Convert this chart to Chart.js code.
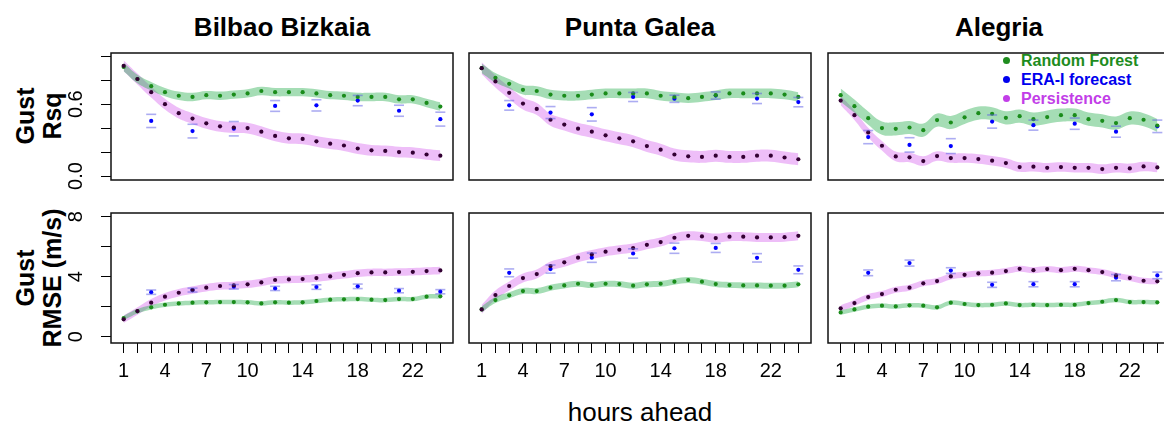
<!DOCTYPE html>
<html>
<head>
<meta charset="utf-8">
<script src="https://cdn.jsdelivr.net/npm/chart.js@4/dist/chart.umd.min.js"></script>
<style>
  html, body { margin: 0; padding: 0; background: #fff; }
  body { position: relative; width: 1164px; height: 427px; overflow: hidden;
         font-family: "Liberation Sans", Arial, sans-serif; color: #000; }
  canvas { position: absolute; }
  .title { position: absolute; font-weight: bold; font-size: 26px; transform: translate(-50%, -50%); white-space: nowrap; }
  .ytitle { position: absolute; font-weight: bold; font-size: 25px; line-height: 27px; text-align: center;
            white-space: nowrap; transform: translate(-50%, -50%) rotate(-90deg); }
  .xtitle { position: absolute; font-size: 26px; transform: translate(-50%, -50%); white-space: nowrap; }
  .legend { position: absolute; left: 1002px; top: 51px; font-weight: bold; font-size: 16px; line-height: 19px; }
  .legend div { position: relative; padding-left: 19px; white-space: nowrap; }
  .legend span { position: absolute; left: 1px; top: 6px; width: 7px; height: 7px; border-radius: 50%; }
</style>
</head>
<body>
<div class="title" style="left:282px; top:27px">Bilbao Bizkaia</div>
<div class="title" style="left:640px; top:27px">Punta Galea</div>
<div class="title" style="left:999px; top:27px">Alegria</div>
<div class="ytitle" style="left:39px; top:116px">Gust<br>Rsq</div>
<div class="ytitle" style="left:39px; top:278px">Gust<br>RMSE (m/s)</div>
<div class="xtitle" style="left:640px; top:412px">hours ahead</div>
<div class="legend">
  <div style="color:#1e8c1e"><span style="background:#1e8c1e"></span>Random Forest</div>
  <div style="color:#0000ee"><span style="background:#0000ee"></span>ERA-I forecast</div>
  <div style="color:#c23ee8"><span style="background:#c23ee8"></span>Persistence</div>
</div>

<script>
// hours on the x axis, and the ones that get a label
const hours = [1,2,3,4,5,6,7,8,9,10,11,12,13,14,15,16,17,18,19,20,21,22,23,24];
const xLabelHours = [1, 4, 7, 10, 14, 18, 22];
const eraHours = [3, 6, 9, 12, 15, 18, 21, 24];

const rsqTicks = [0, 0.2, 0.4, 0.6, 0.8, 1.0];
const rsqLabels = [0, 0.6];
const rmseTicks = [0, 2, 4, 6, 8];
const rmseLabels = [0, 4, 8];

// Rsq, Bilbao Bizkaia
const rfRsqBilbao = [0.91,0.81,0.75,0.70,0.67,0.66,0.675,0.67,0.68,0.69,0.71,0.70,0.70,0.70,0.69,0.675,0.67,0.66,0.66,0.66,0.64,0.64,0.61,0.58];
const perRsqBilbao = [0.92,0.81,0.70,0.60,0.525,0.48,0.44,0.415,0.405,0.40,0.37,0.335,0.315,0.31,0.29,0.27,0.255,0.23,0.215,0.21,0.20,0.195,0.18,0.17];
const eraRsqBilbao = [0.46,0.375,0.395,0.585,0.59,0.63,0.545,0.475];
const eraRsqBilbaoErr = [0.055,0.057,0.06,0.045,0.047,0.043,0.046,0.058];

// Rsq, Punta Galea
const rfRsqPunta = [0.90,0.82,0.77,0.72,0.71,0.68,0.67,0.67,0.68,0.69,0.69,0.69,0.69,0.67,0.66,0.65,0.66,0.675,0.69,0.69,0.69,0.69,0.68,0.66];
const perRsqPunta = [0.90,0.79,0.695,0.605,0.56,0.47,0.43,0.395,0.37,0.34,0.315,0.29,0.25,0.22,0.18,0.165,0.16,0.17,0.16,0.16,0.17,0.17,0.155,0.14];
const eraRsqPunta = [0.59,0.53,0.515,0.66,0.645,0.672,0.647,0.617];
const eraRsqPuntaErr = [0.04,0.05,0.056,0.038,0.03,0.03,0.042,0.039];

// Rsq, Alegria
const rfRsqAlegria = [0.675,0.583,0.483,0.40,0.394,0.405,0.383,0.467,0.447,0.49,0.525,0.52,0.486,0.50,0.475,0.492,0.508,0.508,0.475,0.461,0.442,0.483,0.47,0.422];
const perRsqAlegria = [0.63,0.508,0.364,0.253,0.164,0.156,0.125,0.167,0.15,0.15,0.142,0.128,0.108,0.075,0.078,0.069,0.075,0.069,0.069,0.058,0.069,0.064,0.08,0.072];
const eraRsqAlegria = [0.325,0.26,0.25,0.455,0.425,0.437,0.37,0.415];
const eraRsqAlegriaErr = [0.055,0.06,0.062,0.055,0.042,0.047,0.046,0.052];

// RMSE, Bilbao Bizkaia
const rfRmseBilbao = [1.24,1.69,1.96,2.13,2.22,2.27,2.29,2.31,2.31,2.29,2.22,2.29,2.27,2.29,2.38,2.47,2.49,2.51,2.47,2.44,2.51,2.51,2.67,2.69];
const perRmseBilbao = [1.16,1.71,2.27,2.67,2.93,3.11,3.27,3.38,3.42,3.49,3.62,3.78,3.82,3.84,3.91,4.02,4.13,4.24,4.29,4.29,4.31,4.33,4.38,4.42];
const eraRmseBilbao = [2.97,3.11,3.33,3.22,3.31,3.36,3.07,3.0];
const eraRmseBilbaoErr = [0.145,0.13,0.15,0.14,0.15,0.15,0.14,0.14];

// RMSE, Punta Galea
const rfRmsePunta = [1.82,2.44,2.76,3.04,3.04,3.27,3.42,3.53,3.44,3.53,3.51,3.4,3.49,3.53,3.67,3.78,3.67,3.51,3.44,3.42,3.42,3.4,3.4,3.49];
const perRmsePunta = [1.82,2.78,3.38,3.91,4.18,4.71,4.96,5.27,5.49,5.67,5.8,5.91,6.13,6.31,6.6,6.73,6.69,6.58,6.67,6.67,6.62,6.62,6.64,6.73];
const eraRmsePunta = [4.26,4.51,5.27,5.55,5.9,5.92,5.26,4.46];
const eraRmsePuntaErr = [0.26,0.27,0.31,0.31,0.34,0.3,0.28,0.26];

// RMSE, Alegria
const rfRmseAlegria = [1.62,1.82,2.0,2.07,2.02,2.09,2.07,1.96,2.27,2.18,2.11,2.13,2.22,2.11,2.13,2.11,2.13,2.13,2.24,2.33,2.44,2.31,2.31,2.29];
const perRmseAlegria = [1.89,2.24,2.64,2.84,3.13,3.27,3.56,3.71,4.02,4.13,4.22,4.27,4.38,4.53,4.44,4.51,4.44,4.53,4.44,4.31,4.09,3.91,3.73,3.69];
const eraRmseAlegria = [4.26,4.91,4.41,3.46,3.5,3.5,3.94,4.09];
const eraRmseAlegriaErr = [0.19,0.2,0.19,0.17,0.17,0.17,0.21,0.22];

// half widths of the shaded bands, per panel
const rfBand = [[0.035, 0.04, 0.055], [0.15, 0.2, 0.15]];
const perBand = [[0.045, 0.05, 0.04], [0.25, 0.3, 0.2]];

const panels = [
  { row: 0, col: 0, rf: rfRsqBilbao, per: perRsqBilbao, era: eraRsqBilbao, err: eraRsqBilbaoErr },
  { row: 0, col: 1, rf: rfRsqPunta, per: perRsqPunta, era: eraRsqPunta, err: eraRsqPuntaErr },
  { row: 0, col: 2, rf: rfRsqAlegria, per: perRsqAlegria, era: eraRsqAlegria, err: eraRsqAlegriaErr },
  { row: 1, col: 0, rf: rfRmseBilbao, per: perRmseBilbao, era: eraRmseBilbao, err: eraRmseBilbaoErr },
  { row: 1, col: 1, rf: rfRmsePunta, per: perRmsePunta, era: eraRmsePunta, err: eraRmsePuntaErr },
  { row: 1, col: 2, rf: rfRmseAlegria, per: perRmseAlegria, era: eraRmseAlegria, err: eraRmseAlegriaErr },
];

// page layout (plot boxes)
const colLeft = [111, 469, 828];
const boxW = 342;
const rowTop = [53, 213];
const boxH = [127, 130];
const yRange = [[-0.033, 1.027], [-0.42, 8.25]];
const LEFT = 50, PAD = 4, XAXIS = 50, BELOW_TOP = 22;

Chart.defaults.font.family = '"Liberation Sans", Arial, sans-serif';
Chart.defaults.color = '#000';

const boxPlugin = {
  id: 'box',
  afterDraw(chart) {
    const a = chart.chartArea, ctx = chart.ctx;
    ctx.save();
    ctx.strokeStyle = '#111';
    ctx.lineWidth = 1.5;
    ctx.strokeRect(a.left, a.top, a.right - a.left, a.bottom - a.top);
    ctx.restore();
  }
};

// caps of the ERA-I error bars
const capsPlugin = {
  id: 'caps',
  afterDatasetsDraw(chart) {
    const ds = chart.data.datasets.find(d => d.errs);
    const xs = chart.scales.x, ys = chart.scales.y, ctx = chart.ctx;
    ctx.save();
    ctx.strokeStyle = 'rgba(90,90,230,0.5)';
    ctx.lineWidth = 1.6;
    ds.data.forEach((p, i) => {
      const x = xs.getPixelForValue(p.x);
      [p.y + ds.errs[i], p.y - ds.errs[i]].forEach(v => {
        const y = ys.getPixelForValue(v);
        ctx.beginPath();
        ctx.moveTo(x - 5, y);
        ctx.lineTo(x + 5, y);
        ctx.stroke();
      });
    });
    ctx.restore();
  }
};

// R style vertical tick labels on the left axis
const yLabelPlugin = {
  id: 'ylabels',
  afterDraw(chart, args, opts) {
    if (!opts.labels) return;
    const ys = chart.scales.y, ctx = chart.ctx;
    ctx.save();
    ctx.font = '20px "Liberation Sans", Arial, sans-serif';
    ctx.fillStyle = '#000';
    ctx.textAlign = 'center';
    ctx.textBaseline = 'alphabetic';
    opts.labels.forEach(v => {
      const y = ys.getPixelForValue(v);
      ctx.save();
      ctx.translate(chart.chartArea.left - 29, y);
      ctx.rotate(-Math.PI / 2);
      ctx.fillText(opts.fmt(v), 0, 0);
      ctx.restore();
    });
    ctx.restore();
  }
};

function pts(xv, yv) {
  return xv.map((x, i) => ({ x, y: yv[i] }));
}

function band(values, hw, sign) {
  return hours.map((h, i) => ({ x: h, y: values[i] + sign * hw }));
}

function makePanel(p) {
  const bottomRow = p.row === 1;
  const below = bottomRow ? 0 : BELOW_TOP;
  const canvas = document.createElement('canvas');
  canvas.width = boxW + LEFT + PAD;
  canvas.height = boxH[p.row] + PAD + (bottomRow ? XAXIS : below);
  canvas.style.left = (colLeft[p.col] - LEFT) + 'px';
  canvas.style.top = (rowTop[p.row] - PAD) + 'px';
  document.body.appendChild(canvas);

  const rb = rfBand[p.row][p.col], pb = perBand[p.row][p.col];
  const bandLine = { type: 'line', pointRadius: 0, borderWidth: 0, tension: 0.4 };

  new Chart(canvas, {
    type: 'scatter',
    data: {
      datasets: [
        { data: pts(hours, p.per), backgroundColor: '#330033', pointRadius: 2.1, borderWidth: 0 },
        { data: pts(hours, p.rf), backgroundColor: '#1a8c1a', pointRadius: 2.1, borderWidth: 0 },
        { data: pts(eraHours, p.era), errs: p.err, backgroundColor: '#0000ff', pointRadius: 2.1, borderWidth: 0 },
        { ...bandLine, data: band(p.rf, rb, 1), fill: '+1', backgroundColor: 'rgba(30,170,70,0.4)' },
        { ...bandLine, data: band(p.rf, rb, -1), fill: false },
        { ...bandLine, data: band(p.per, pb, 1), fill: '+1', backgroundColor: 'rgba(205,70,235,0.35)' },
        { ...bandLine, data: band(p.per, pb, -1), fill: false },
      ]
    },
    options: {
      responsive: false,
      animation: false,
      devicePixelRatio: 1,
      events: [],
      layout: { padding: { left: 0, right: PAD, top: PAD, bottom: below } },
      plugins: {
        legend: { display: false },
        tooltip: { enabled: false },
        ylabels: p.col === 0 ? {
          labels: bottomRow ? rmseLabels : rsqLabels,
          fmt: v => bottomRow ? String(v) : v.toFixed(1)
        } : {}
      },
      scales: {
        x: {
          type: 'linear',
          display: bottomRow,
          min: 0.08,
          max: 24.92,
          afterBuildTicks: s => { s.ticks = hours.map(v => ({ value: v })); },
          afterFit: s => { s.height = bottomRow ? XAXIS : 0; },
          border: { display: false },
          grid: { drawOnChartArea: false, drawTicks: true, tickLength: 10, color: '#000', lineWidth: 1 },
          ticks: {
            autoSkip: false, maxRotation: 0, minRotation: 0, padding: 6,
            font: { size: 20 },
            callback: v => xLabelHours.includes(v) ? String(v) : ''
          }
        },
        y: {
          type: 'linear',
          min: yRange[p.row][0],
          max: yRange[p.row][1],
          afterBuildTicks: s => { s.ticks = (bottomRow ? rmseTicks : rsqTicks).map(v => ({ value: v })); },
          afterFit: s => { s.width = LEFT; },
          border: { display: false },
          grid: { drawOnChartArea: false, drawTicks: p.col === 0, tickLength: 10, color: '#000', lineWidth: 1 },
          ticks: { display: false }
        }
      }
    },
    plugins: [boxPlugin, capsPlugin, yLabelPlugin]
  });
}

panels.forEach(makePanel);
</script>
</body>
</html>
